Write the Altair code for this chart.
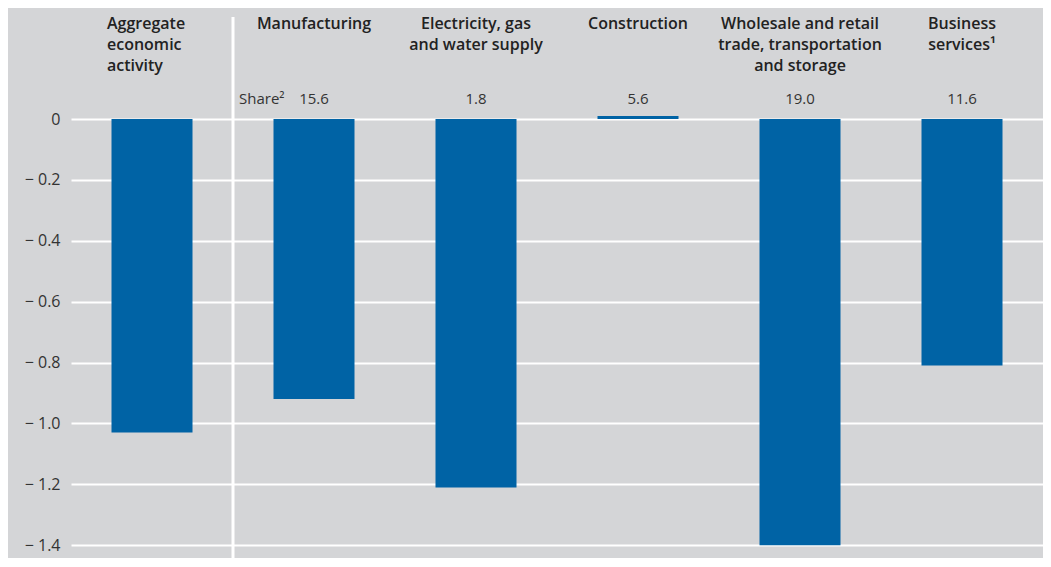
import altair as alt
import pandas as pd

sectors = ["Aggregate", "Manufacturing", "Electricity", "Construction", "Wholesale", "Business"]
headers = [
    "Aggregate\neconomic\nactivity",
    "Manufacturing",
    "Electricity, gas\nand water supply",
    "Construction",
    "Wholesale and retail\ntrade, transportation\nand storage",
    "Business\nservices\u00b9",
]
changes = [-1.03, -0.92, -1.21, 0.01, -1.40, -0.81]
shares = ["", "15.6", "1.8", "5.6", "19.0", "11.6"]
tick_values = [0, -0.2, -0.4, -0.6, -0.8, -1.0, -1.2, -1.4]

df = pd.DataFrame({"sector": sectors, "header": headers, "change": changes, "share": shares})

BLUE = "#0063a5"
BG = "#d4d5d7"
FONT = "Open Sans"

x_enc = alt.X("sector:N", sort=sectors,
              scale=alt.Scale(paddingInner=0.5, paddingOuter=0.25), axis=None)

y_scale = alt.Scale(domain=[-1.442, 0.3648], nice=False, zero=False)

base = alt.Chart(df)

bars = base.mark_bar(color=BLUE).encode(
    x=x_enc,
    y=alt.Y("change:Q", scale=y_scale,
            axis=alt.Axis(values=tick_values, grid=True, gridColor="white", gridWidth=2,
                          gridOpacity=1, domain=False, ticks=False, title=None,
                          labelExpr="datum.value == 0 ? '0' : '\u2212 ' + format(abs(datum.value), '.1f')",
                          labelPadding=11, labelFontSize=16, labelColor="#333333",
                          labelFont=FONT)),
)

sep = base.mark_rule(color="white", strokeWidth=3).encode(
    x=alt.value(162), y=alt.value(9), y2=alt.value(550)
).transform_filter("datum.sector == 'Aggregate'")

hdr_left = base.mark_text(font=FONT, fontSize=16, fontWeight=600, color="#222222",
                          align="left", baseline="alphabetic", lineBreak="\n",
                          lineHeight=21, dx=-45).encode(
    x=x_enc, y=alt.value(21), text="header:N"
).transform_filter("datum.sector == 'Aggregate'")

hdr = base.mark_text(font=FONT, fontSize=16, fontWeight=600, color="#222222",
                     align="center", baseline="alphabetic", lineBreak="\n",
                     lineHeight=21).encode(
    x=x_enc, y=alt.value(21), text="header:N"
).transform_filter("datum.sector != 'Aggregate'")

share_txt = base.mark_text(font=FONT, fontSize=15, color="#333333",
                           align="center", baseline="alphabetic").encode(
    x=x_enc, y=alt.value(96), text="share:N"
).transform_filter("datum.share != ''")

share_lbl = base.mark_text(font=FONT, fontSize=15, color="#333333",
                           align="left", baseline="alphabetic").encode(
    x=alt.value(168), y=alt.value(96), text=alt.value("Share\u00b2")
).transform_filter("datum.sector == 'Aggregate'")

chart = alt.layer(bars, sep, hdr_left, hdr, share_txt, share_lbl).properties(
    width=972, height=550,
    background=BG,
    padding={"left": 63, "top": 0, "right": 0, "bottom": 0},
    autosize=alt.AutoSizeParams(type="none"),
).configure_view(stroke=None)

chart.save("out.html", embed_options={"renderer": "svg", "actions": False})
